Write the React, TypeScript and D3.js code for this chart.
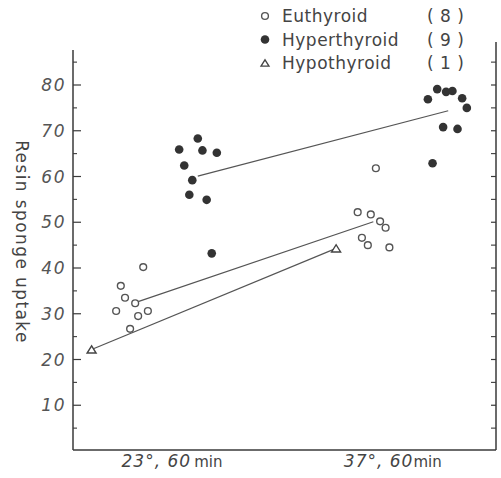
import * as d3 from "d3"

// groups: 0 = 23°, 60 min ; 1 = 37°, 60 min
const euPos = [16.6, 11.3, 12.3, 14.7, 10.2, 15.4, 17.7, 13.5, 71.6, 67.3, 70.4, 72.6, 73.9, 68.3, 69.7, 74.8]
const euVal = [40.2, 36.1, 33.5, 32.3, 30.6, 29.5, 30.6, 26.7, 61.8, 52.2, 51.7, 50.2, 48.8, 46.6, 45.0, 44.5]
const euGroup = [0, 0, 0, 0, 0, 0, 0, 0, 1, 1, 1, 1, 1, 1, 1, 1]
const euLinePos = [14.7, 71.0]

const hyperPos = [29.5, 25.1, 30.6, 34.0, 26.3, 28.2, 27.5, 31.6, 32.8, 86.1, 88.2, 89.7, 83.9, 92.0, 93.1, 87.5, 90.9, 85.0]
const hyperVal = [68.3, 65.9, 65.7, 65.2, 62.4, 59.2, 56.0, 54.9, 43.2, 79.1, 78.5, 78.7, 76.9, 77.1, 75.0, 70.8, 70.4, 62.9]
const hyperGroup = [0, 0, 0, 0, 0, 0, 0, 0, 0, 1, 1, 1, 1, 1, 1, 1, 1, 1]
const hyperLinePos = [29.5, 88.7]

const hypoPos = [4.4, 62.2]
const hypoVal = [22.2, 44.3]

const categoryPos = [23.4, 75.6]
const categoryDeg = ["23", "37"]
const categoryMin = ["60", "60"]

const yMajor = [10, 20, 30, 40, 50, 60, 70, 80]
const yMinor = [5, 15, 25, 35, 45, 55, 65, 75, 85]

const legendNames = ["Euthyroid", "Hyperthyroid", "Hypothyroid"]
const legendCounts = ["( 8 )", "( 9 )", "( 1 )"]

const W = 501
const H = 478
const ink = "#3a3a3a"

function tri(cx: number, cy: number, s: number) {
    const h = s * 0.8
    return `M${cx - s / 2},${cy + h / 2}L${cx + s / 2},${cy + h / 2}L${cx},${cy - h / 2}Z`
}

export default function App() {
    const x = d3.scaleLinear().domain([0, 100]).range([73, 496])
    const y = d3.scaleLinear().domain([0, 80]).range([451, 85])

    const meanOf = (vals: number[], groups: number[], g: number) =>
        d3.mean(vals.filter((_, i) => groups[i] === g)) as number

    const line = d3.line<[number, number]>().x((d) => x(d[0])).y((d) => y(d[1]))

    const euLine: [number, number][] = euLinePos.map((p, g) => [p, meanOf(euVal, euGroup, g)])
    const hyperLine: [number, number][] = hyperLinePos.map((p, g) => [p, meanOf(hyperVal, hyperGroup, g)])
    const hypoLine: [number, number][] = hypoPos.map((p, i) => [p, hypoVal[i]])

    const x0 = x(0)
    const x1 = x(100)
    const yBase = 450

    return (
        <>
            <style>{`body{margin:0}`}</style>
            <svg width={W} height={H} style={{ display: "block", background: "#fff" }}>
                {/* axes frame */}
                <line x1={x0} x2={x0} y1={50} y2={yBase} stroke={ink} strokeWidth={1.5} />
                <line x1={x1} x2={x1} y1={42} y2={yBase} stroke={ink} strokeWidth={1.5} />
                <line x1={x0} x2={x1} y1={yBase} y2={yBase} stroke={ink} strokeWidth={1.5} />

                {yMajor.map((v) => (
                    <g key={"M" + v}>
                        <line x1={x0} x2={x0 + 8} y1={y(v)} y2={y(v)} stroke={ink} strokeWidth={1.2} />
                        <line x1={x1} x2={x1 - 5} y1={y(v)} y2={y(v)} stroke={ink} strokeWidth={1.2} />
                        <text
                            x={66}
                            y={y(v)}
                            dy="0.36em"
                            textAnchor="end"
                            fontFamily="DejaVu Sans"
                            fontStyle="italic"
                            fontWeight={300}
                            fontSize={17}
                            letterSpacing={1.5}
                            fill="#555"
                        >
                            {v}
                        </text>
                    </g>
                ))}
                {yMinor.map((v) => (
                    <g key={"m" + v}>
                        <line x1={x0} x2={x0 + 4} y1={y(v)} y2={y(v)} stroke={ink} strokeWidth={1.1} />
                        <line x1={x1} x2={x1 - 5} y1={y(v)} y2={y(v)} stroke={ink} strokeWidth={1.1} />
                    </g>
                ))}

                {/* y title */}
                <text
                    transform={`translate(22,242) rotate(90)`}
                    dy="0.35em"
                    textAnchor="middle"
                    fontFamily="DejaVu Sans"
                    fontSize={17}
                    letterSpacing={1.4}
                    fill="#444"
                >
                    Resin sponge uptake
                </text>

                {/* category labels */}
                {categoryPos.map((p, i) => (
                    <text
                        key={p}
                        x={x(p)}
                        y={467}
                        textAnchor="middle"
                        fontFamily="DejaVu Sans"
                        fontSize={17}
                        fill="#444"
                    >
                        <tspan fontStyle="italic" fontWeight={300} letterSpacing={1}>
                            {categoryDeg[i]}°, {categoryMin[i]}
                        </tspan>
                        <tspan fontSize={15} dx={i === 0 ? 3 : 0}>min</tspan>
                    </text>
                ))}

                {/* mean lines */}
                <path d={line(euLine) ?? ""} fill="none" stroke="#555" strokeWidth={1.2} />
                <path d={line(hyperLine) ?? ""} fill="none" stroke="#555" strokeWidth={1.2} />
                <path d={line(hypoLine) ?? ""} fill="none" stroke="#555" strokeWidth={1.2} />

                {/* points */}
                {euPos.map((p, i) => (
                    <circle key={"e" + i} cx={x(p)} cy={y(euVal[i])} r={3.4} fill="#fff" stroke="#555" strokeWidth={1.4} />
                ))}
                {hyperPos.map((p, i) => (
                    <circle key={"h" + i} cx={x(p)} cy={y(hyperVal[i])} r={4.3} fill="#333" />
                ))}
                {hypoPos.map((p, i) => (
                    <path key={"t" + i} d={tri(x(p), y(hypoVal[i]), 9)} fill="#fff" stroke="#444" strokeWidth={1.4} />
                ))}

                {/* legend */}
                {legendNames.map((n, i) => {
                    const ly = 16 + i * 23.5
                    return (
                        <g key={n}>
                            {i === 0 && <circle cx={265} cy={ly} r={3.4} fill="#fff" stroke="#555" strokeWidth={1.4} />}
                            {i === 1 && <circle cx={265} cy={ly} r={4.3} fill="#333" />}
                            {i === 2 && <path d={tri(265, ly, 8)} fill="#fff" stroke="#444" strokeWidth={1.3} />}
                            <text x={282} y={ly} dy="0.36em" fontFamily="DejaVu Sans" fontSize={17} letterSpacing={0.5} fill="#444">
                                {n}
                            </text>
                            <text x={427} y={ly} dy="0.36em" fontFamily="DejaVu Sans" fontSize={17} letterSpacing={0.5} fill="#444">
                                {legendCounts[i]}
                            </text>
                        </g>
                    )
                })}
            </svg>
        </>
    )
}
